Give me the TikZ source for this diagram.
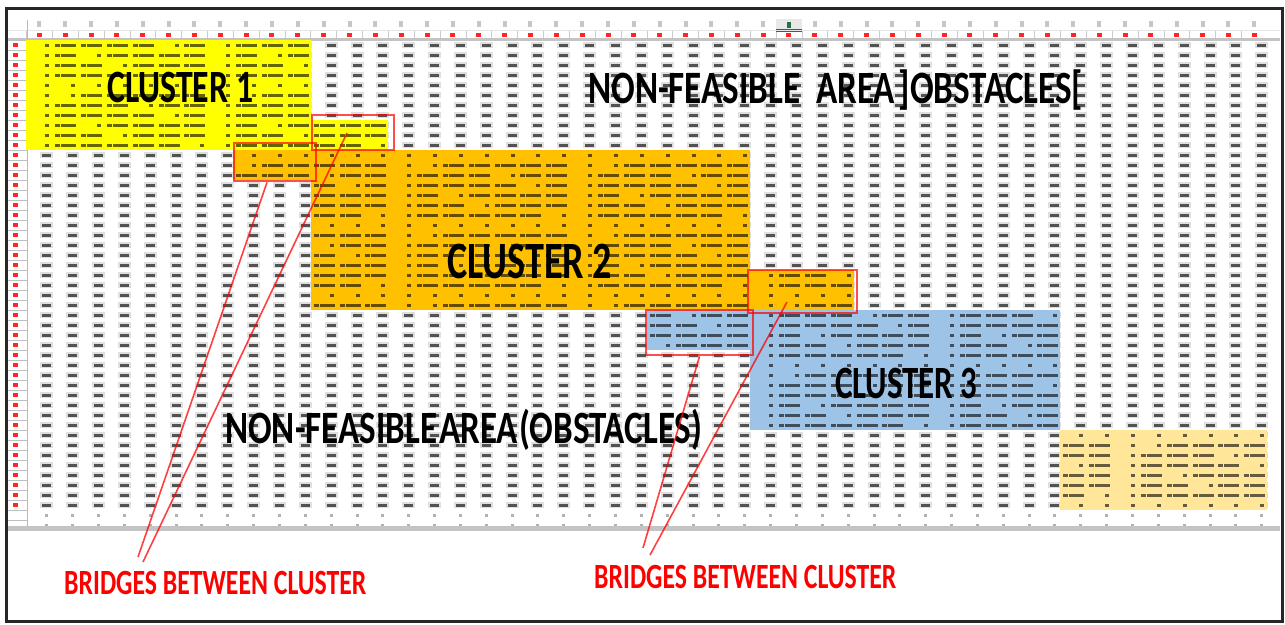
\documentclass[tikz,border=0pt]{standalone}
\usepackage{fontspec}
\setmainfont{Carlito}
\usepackage{graphicx}

\definecolor{xlyellow}{HTML}{FFFF00}
\definecolor{xlorange}{HTML}{FFC000}
\definecolor{xlblue}{HTML}{9DC3E6}
\definecolor{xlgold}{HTML}{FFE699}
\definecolor{xlgreen}{HTML}{217346}
\definecolor{hdrgrey}{HTML}{C4C4C4}

% scale a caps label so that its cap height and width are given exactly
\newcommand{\capfit}[3]{\resizebox{#1}{#2}{\raisebox{0pt}[\fontcharht\font`C][0pt]{#3}}}

% grid geometry: column i starts at 26.3+25.85 i, row j starts at 40+10 j
\newcommand{\colx}[1]{26.3+25.85*(#1)}
\newcommand{\rowy}[1]{40+10*(#1)}

% filled block of cells, columns #1..#2, rows #3..#4
\newcommand{\cellblock}[5]{%
  \fill[#5] ({\colx{#1}},{\rowy{#3}}) rectangle ({\colx{#2+1}},{\rowy{#4+1}});}

% numbers inside a coloured block
\newcommand{\inkcells}[4]{%
  \foreach \i in {#1,...,#2}{%
    \foreach \j in {#3,...,#4}{%
      \pgfmathtruncatemacro\kk{mod(3*\i+7*\j+\i*\j,7)}%
      \ifnum\kk<2
        \fill[cellink] ({\colx{\i}+19},{\rowy{\j}+3.5}) rectangle ++(4,3);
      \else
        \fill[cellink] ({\colx{\i}+3},{\rowy{\j}+3.5}) rectangle ++(5,3);
        \fill[cellink] ({\colx{\i}+9},{\rowy{\j}+3.5}) rectangle ++(15,3);
      \fi
    }}}

\begin{document}
\begin{tikzpicture}[x=1pt,y=-1pt,
  cellink/.style={fill=black,fill opacity=0.6},
  dashhalo/.style={fill=gray!25},
  dashcore/.style={fill=black!68},
  bridgebox/.style={draw=red,draw opacity=0.7,line width=2.8pt,inner sep=0pt,fill=none},
  bridgeline/.style={draw=red,draw opacity=0.75,line width=1.6pt},
  lbl/.style={inner sep=0pt,anchor=base west,font=\bfseries,text=black},
  redlbl/.style={inner sep=0pt,anchor=base west,font=\bfseries,text=red}]

\useasboundingbox (0,0) rectangle (1285,624);
\fill[white] (0,0) rectangle (1285,624);

% ---- column header ----
\foreach \i in {0,...,47}{
  \fill[gray!45] ({\colx{\i}+11},21) rectangle ++(4,6);
  \fill[red!85] ({\colx{\i}+10.5},33) rectangle ++(5,4);
  \draw[gray!40] ({\colx{\i}},31) -- ({\colx{\i}},39);
}
\fill[gray!18] (776,19) rectangle (802,31);
\fill[xlgreen] (776,29) rectangle (802,31.5);
\fill[xlgreen] (787,22) rectangle ++(4,6);
\fill[gray!20] (8,29.5) rectangle (1280,31);
\fill[hdrgrey] (8,38) rectangle (1280,41);

% ---- row header ----
\foreach \j in {0,...,46}{
  \fill[red!85] (13,{\rowy{\j}+3}) rectangle ++(5,4);
}
\foreach \j in {0,...,49}{
  \draw[gray!50] (8,{\rowy{\j}}) -- (28,{\rowy{\j}});
}
\draw[gray!55,line width=1.5pt] (27.5,20) -- (27.5,528);

% ---- empty cells ----
\foreach \i in {0,...,47}{
  \foreach \j in {0,...,46}{
    \fill[dashhalo] ({\colx{\i}+14},{\rowy{\j}+2}) rectangle ++(13,6);
    \fill[dashcore] ({\colx{\i}+16},{\rowy{\j}+3.5}) rectangle ++(9,3);
  }
  \fill[gray!60] ({\colx{\i}+19},513.5) rectangle ++(3,3);
  \fill[gray!60] ({\colx{\i}+19},523.5) rectangle ++(3,3);
}
\fill[hdrgrey] (8,526) rectangle (1280,531);

% ---- clusters ----
\cellblock{0}{10}{0}{10}{xlyellow}
\cellblock{11}{13}{8}{10}{xlyellow}
\cellblock{8}{10}{11}{13}{xlorange}
\cellblock{11}{27}{11}{26}{xlorange}
\cellblock{28}{31}{23}{26}{xlorange}
\cellblock{24}{27}{27}{30}{xlblue}
\cellblock{28}{39}{27}{38}{xlblue}
\cellblock{40}{47}{39}{46}{xlgold}

\inkcells{0}{10}{0}{10}
\inkcells{11}{13}{8}{10}
\inkcells{8}{10}{11}{13}
\inkcells{11}{27}{11}{26}
\inkcells{28}{31}{23}{26}
\inkcells{24}{27}{27}{30}
\inkcells{28}{39}{27}{38}
\inkcells{40}{47}{39}{46}

% ---- labels ----
\node[lbl] (c1) at (107,102) {\capfit{146pt}{30pt}{CLUSTER 1}};
\node[lbl] (c2) at (447,278) {\capfit{165pt}{34pt}{CLUSTER 2}};
\node[lbl] (c3) at (835,398) {\capfit{142pt}{30pt}{CLUSTER 3}};
\node[lbl] (ob1) at (588,103)
  {\capfit{495pt}{30pt}{NON-FEASIBLE\hspace{0.45em}AREA\hspace{0.1em}]OBSTACLES[}};
\node[lbl] (ob2) at (225,443)
  {\capfit{477pt}{30pt}{NON-FEASIBLE\hspace{0.06em}AREA\hspace{0.04em}(OBSTACLES)}};

% ---- bridges ----
\node[bridgebox,minimum width=82pt,minimum height=35pt] (bA) at (353,132.5) {};
\node[bridgebox,minimum width=82pt,minimum height=38pt] (bB) at (275,162) {};
\node[bridgebox,minimum width=109pt,minimum height=43pt] (bC) at (802.5,291.5) {};
\node[bridgebox,minimum width=107pt,minimum height=45pt] (bD) at (699.5,332.5) {};

\coordinate (pA) at (347,133);
\coordinate (pC) at (787,302);
\coordinate (qA) at (143,562);
\coordinate (qB) at (138,557);
\coordinate (qC) at (650,555);
\coordinate (qD) at (643,548);

\draw[bridgeline] ([xshift=-8pt]bB.south) -- (qB);
\draw[bridgeline] (pA) -- (qA);
\draw[bridgeline] (bD.south) -- (qD);
\draw[bridgeline] (pC) -- (qC);

\node[redlbl] (br1) at (64,594) {\capfit{302pt}{23pt}{BRIDGES BETWEEN CLUSTER}};
\node[redlbl] (br2) at (594,588) {\capfit{302pt}{23pt}{BRIDGES BETWEEN CLUSTER}};

% ---- window frame ----
\draw[black!85,line width=3pt] (6.5,8.5) rectangle (1282.5,621.5);
\end{tikzpicture}
\end{document}
